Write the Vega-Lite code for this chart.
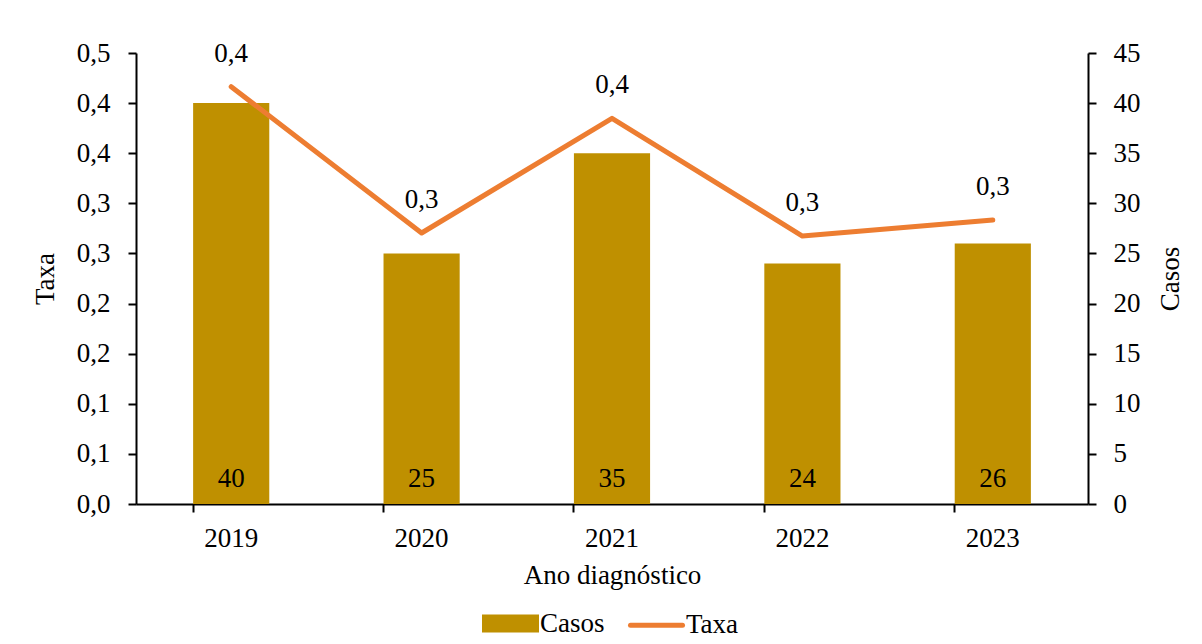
{
  "$schema": "https://vega.github.io/schema/vega-lite/v6.json",
  "autosize": "none",
  "width": 952,
  "height": 451,
  "padding": {"left": 136, "top": 53, "right": 114, "bottom": 140},
  "background": "white",
  "config": {
    "locale": {"number": {"decimal": ",", "thousands": ".", "grouping": [3], "currency": ["", ""]}},
    "font": "Liberation Serif",
    "view": {"stroke": null},
    "axis": {
      "labelFont": "Liberation Serif", "labelFontSize": 27, "labelColor": "black",
      "titleFont": "Liberation Serif", "titleFontSize": 27, "titleFontWeight": "normal", "titleColor": "black",
      "domainColor": "black", "domainWidth": 2, "tickColor": "black", "tickWidth": 2, "tickSize": 8, "grid": false
    }
  },
  "data": {
    "values": [
      {"Ano": "2019", "Casos": 40, "Taxa": 0.4164},
      {"Ano": "2020", "Casos": 25, "Taxa": 0.2704},
      {"Ano": "2021", "Casos": 35, "Taxa": 0.3848},
      {"Ano": "2022", "Casos": 24, "Taxa": 0.2674},
      {"Ano": "2023", "Casos": 26, "Taxa": 0.2834}
    ]
  },
  "encoding": {
    "x": {
      "field": "Ano", "type": "ordinal",
      "scale": {"paddingInner": 0.6, "paddingOuter": 0.3},
      "axis": {"title": "Ano diagnóstico", "labelAngle": 0, "bandPosition": 0, "labelPadding": 13, "titlePadding": 11}
    }
  },
  "layer": [
    {
      "layer": [
        {
          "mark": {"type": "bar"},
          "encoding": {
            "y": {
              "field": "Casos", "type": "quantitative",
              "scale": {"domain": [0, 45]},
              "axis": {"orient": "right", "title": "Casos", "values": [0, 5, 10, 15, 20, 25, 30, 35, 40, 45], "labelPadding": 17, "titleAngle": -90, "titlePadding": 44}
            },
            "color": {
              "datum": "Casos", "type": "nominal",
              "scale": {"domain": ["Casos", "Taxa"], "range": ["#BF9000", "#ED7D31"]},
              "legend": {
                "orient": "none", "legendX": 346, "legendY": 542, "direction": "horizontal",
                "title": null, "labelFont": "Liberation Serif", "labelFontSize": 27, "labelColor": "black",
                "symbolSize": 2704, "labelOffset": 1, "columnPadding": 15, "padding": 0,
                "encode": {
                  "symbols": {
                    "update": {
                      "shape": {"signal": "datum.value === 'Casos' ? 'M-1,-0.25H1V0.25H-1Z' : 'M-1,0H1'"},
                      "fill": {"signal": "datum.value === 'Casos' ? '#BF9000' : 'transparent'"},
                      "stroke": {"signal": "datum.value === 'Casos' ? 'transparent' : '#ED7D31'"},
                      "strokeWidth": {"value": 5},
                      "strokeCap": {"value": "round"},
                      "opacity": {"value": 1}
                    }
                  }
                }
              }
            }
          }
        },
        {
          "mark": {"type": "text", "y": "height", "dy": -17, "baseline": "alphabetic", "fontSize": 27, "font": "Liberation Serif", "color": "black"},
          "encoding": {"text": {"field": "Casos", "type": "quantitative"}}
        }
      ]
    },
    {
      "layer": [
        {
          "mark": {"type": "line", "strokeWidth": 5, "strokeCap": "round", "strokeJoin": "round"},
          "encoding": {
            "y": {
              "field": "Taxa", "type": "quantitative",
              "scale": {"domain": [0, 0.45]},
              "axis": {
                "orient": "left", "title": "Taxa",
                "values": [0, 0.05, 0.1, 0.15, 0.2, 0.25, 0.3, 0.35, 0.4, 0.45],
                "labelExpr": "replace(format(datum.value + 0.000001, '.1f'), '.', ',')",
                "labelPadding": 18, "titlePadding": 17
              }
            },
            "color": {"datum": "Taxa", "type": "nominal"}
          }
        },
        {
          "mark": {"type": "text", "dy": -25, "baseline": "alphabetic", "fontSize": 27, "font": "Liberation Serif", "color": "black"},
          "encoding": {
            "y": {"field": "Taxa", "type": "quantitative"},
            "text": {"field": "Taxa", "type": "quantitative", "format": ".1f"}
          }
        }
      ]
    }
  ],
  "resolve": {"scale": {"y": "independent"}}
}
